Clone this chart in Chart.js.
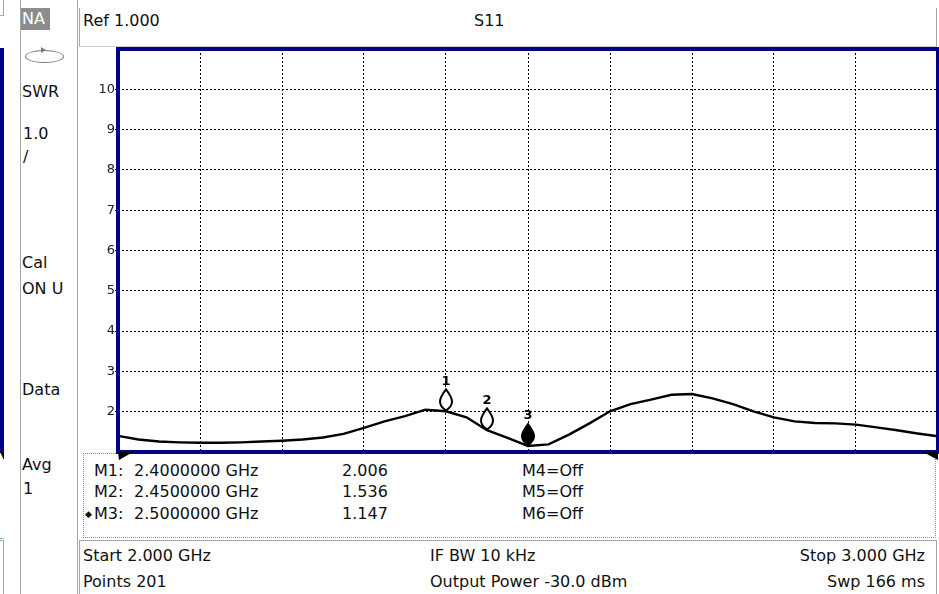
<!DOCTYPE html>
<html>
<head>
<meta charset="utf-8">
<script src="https://cdn.jsdelivr.net/npm/chart.js@4/dist/chart.umd.min.js"></script>
<style>
  html, body { margin: 0; padding: 0; background: #fff; }
  #wrap { position: relative; width: 939px; height: 594px; overflow: hidden; font-family: 'DejaVu Sans', sans-serif; font-size: 16px; color: #111; }
  .t { position: absolute; line-height: 20px; white-space: pre; }
  .ln { position: absolute; background: #a6a6a6; }
  #chart { position: absolute; left: 0; top: 0; }
</style>
</head>
<body>
<div id="wrap">
  <!-- neighbour window edge, cut off at the left -->
  <div class="ln" style="left:3px;top:0;width:1px;height:15px"></div>
  <div class="ln" style="left:0;top:15px;width:4px;height:1px"></div>
  <div style="position:absolute;left:0;top:48px;width:4px;height:405px;background:#00008b"></div>
  <div style="position:absolute;left:0;top:452px;width:0;height:0;border-top:8px solid #000;border-left:4px solid transparent"></div>
  <div style="position:absolute;left:0;top:538px;width:4px;height:0;border-top:1px dotted #5fa7b0"></div>
  <div class="ln" style="left:0;top:540px;width:4px;height:1px"></div>
  <div class="ln" style="left:3px;top:540px;width:1px;height:54px"></div>

  <div class="ln" style="left:20px;top:0;width:1px;height:594px"></div>
  <div class="ln" style="left:77px;top:0;width:1px;height:594px"></div>

  <!-- side panel -->
  <div style="position:absolute;left:21px;top:8px;width:29px;height:22px;background:#8c8c8c"></div>
  <div class="t" style="left:22px;top:9px;color:#fff">NA</div>
  <div style="position:absolute;left:25px;top:50px;width:37px;height:11px;border:1px solid #7a7a7a;border-radius:50%"></div>
  <div style="position:absolute;left:41px;top:47px;width:0;height:0;border-top:3px solid transparent;border-bottom:3px solid transparent;border-left:5px solid #7a7a7a"></div>
  <div class="t" style="left:22px;top:82px">SWR</div>
  <div class="t" style="left:23px;top:124px">1.0</div>
  <div class="t" style="left:23px;top:147px">/</div>
  <div class="t" style="left:22px;top:253px">Cal</div>
  <div class="t" style="left:22px;top:279px">ON U</div>
  <div class="t" style="left:22px;top:380px">Data</div>
  <div class="t" style="left:22px;top:455px">Avg</div>
  <div class="t" style="left:23px;top:479px">1</div>

  <!-- header -->
  <div class="ln" style="left:79px;top:8px;width:1px;height:39px"></div>
  <div class="ln" style="left:79px;top:46px;width:858px;height:1px;background:#cfcfcf"></div>
  <div class="ln" style="left:936px;top:8px;width:1px;height:39px"></div>
  <div class="t" style="left:83px;top:11px" id="refText"></div>
  <div class="t" style="left:474px;top:11px" id="traceText"></div>

  <!-- marker table -->
  <div style="position:absolute;left:83px;top:453px;width:853px;height:85px;border:1px dotted #5fa7b0;box-sizing:border-box"></div>
  <div id="markerTable"></div>

  <!-- footer -->
  <div class="ln" style="left:79px;top:540px;width:1px;height:54px"></div>
  <div class="ln" style="left:79px;top:540px;width:858px;height:1px"></div>
  <div class="ln" style="left:936px;top:540px;width:1px;height:54px"></div>
  <div id="footer"></div>

  <canvas id="chart" width="939" height="594"></canvas>
</div>
<script>
// sweep 2 - 3 GHz, SWR
const freqGHz = [
  2.000, 2.025, 2.050, 2.075, 2.100, 2.125, 2.150, 2.175, 2.200, 2.225,
  2.250, 2.275, 2.300, 2.325, 2.350, 2.375, 2.400, 2.425, 2.450, 2.475,
  2.500, 2.525, 2.550, 2.575, 2.600, 2.625, 2.650, 2.675, 2.700, 2.725,
  2.750, 2.775, 2.800, 2.825, 2.850, 2.875, 2.900, 2.925, 2.950, 2.975,
  3.000,
]
const swr = [
  1.40, 1.31, 1.26, 1.24, 1.23, 1.23, 1.24, 1.26, 1.28, 1.31,
  1.36, 1.45, 1.60, 1.76, 1.89, 2.05, 2.01, 1.86, 1.54, 1.35,
  1.15, 1.19, 1.43, 1.71, 2.01, 2.19, 2.30, 2.42, 2.44, 2.33,
  2.19, 2.01, 1.86, 1.76, 1.72, 1.71, 1.68, 1.61, 1.54, 1.46,
  1.39,
]

const markerNames = ['M1', 'M2', 'M3']
const markerFreq = [2.4, 2.45, 2.5]
const markerVal = [2.006, 1.536, 1.147]
const activeMarker = 2
const markersOff = ['M4=Off', 'M5=Off', 'M6=Off']

const yTicks = [2, 3, 4, 5, 6, 7, 8, 9, 10]
const refText = 'Ref 1.000'
const traceName = 'S11'
const footerLeft = ['Start 2.000 GHz', 'Points 201']
const footerMid = ['IF BW 10 kHz', 'Output Power -30.0 dBm']
const footerRight = ['Stop 3.000 GHz', 'Swp 166 ms']

const FONT = "'DejaVu Sans', sans-serif"

function addText(parent, text, css) {
  const d = document.createElement('div')
  d.className = 't'
  d.textContent = text
  d.style.cssText = css
  parent.appendChild(d)
  return d
}

document.getElementById('refText').textContent = refText
document.getElementById('traceText').textContent = traceName

// marker readout
const table = document.getElementById('markerTable')
const rowY = [461, 482, 504]
markerNames.forEach((name, i) => {
  if (i === activeMarker) addText(table, '\u25C6', `left:85px;top:${rowY[i]}px;font-size:9px`)
  addText(table, name + ':', `left:94px;top:${rowY[i]}px`)
  addText(table, markerFreq[i].toFixed(7) + ' GHz', `left:134px;top:${rowY[i]}px`)
  addText(table, markerVal[i].toFixed(3), `left:342px;top:${rowY[i]}px`)
  addText(table, markersOff[i], `left:522px;top:${rowY[i]}px`)
})

const footer = document.getElementById('footer')
const footY = [546, 572]
footerLeft.forEach((s, i) => addText(footer, s, `left:83px;top:${footY[i]}px`))
footerMid.forEach((s, i) => addText(footer, s, `left:430px;top:${footY[i]}px`))
footerRight.forEach((s, i) => addText(footer, s, `right:14px;top:${footY[i]}px`))

// frame, stimulus arrows and marker symbols
const analyzerPlugin = {
  id: 'analyzer',
  afterDatasetsDraw(chart) {
    const { ctx, chartArea: ca, scales } = chart
    ctx.save()
    markerFreq.forEach((f, i) => {
      const px = scales.x.getPixelForValue(f)
      const py = scales.y.getPixelForValue(markerVal[i]) - 1
      const top = py - 21
      ctx.beginPath()
      ctx.moveTo(px, top)
      ctx.bezierCurveTo(px + 3, top + 4, px + 6, top + 8, px + 6, top + 12)
      ctx.bezierCurveTo(px + 6, py - 5, px + 3, py - 2, px, py)
      ctx.bezierCurveTo(px - 3, py - 2, px - 6, py - 5, px - 6, top + 12)
      ctx.bezierCurveTo(px - 6, top + 8, px - 3, top + 4, px, top)
      ctx.closePath()
      ctx.fillStyle = i === activeMarker ? '#000' : '#fff'
      ctx.fill()
      ctx.lineWidth = 2
      ctx.strokeStyle = '#000'
      ctx.stroke()
      ctx.fillStyle = '#000'
      ctx.font = `bold 13px ${FONT}`
      ctx.textAlign = 'center'
      ctx.textBaseline = 'middle'
      ctx.fillText(String(i + 1), px, top - 8)
    })

    ctx.lineWidth = 4
    ctx.strokeStyle = '#00008b'
    ctx.strokeRect(ca.left, ca.top, ca.right - ca.left, ca.bottom - ca.top)

    ctx.fillStyle = '#000'
    ctx.beginPath()
    ctx.moveTo(ca.left, ca.bottom)
    ctx.lineTo(ca.left + 15, ca.bottom)
    ctx.lineTo(ca.left + 1, ca.bottom + 8)
    ctx.closePath()
    ctx.fill()
    ctx.beginPath()
    ctx.moveTo(ca.right - 15, ca.bottom)
    ctx.lineTo(ca.right, ca.bottom)
    ctx.lineTo(ca.right, ca.bottom + 8)
    ctx.closePath()
    ctx.fill()
    ctx.restore()
  },
}

const ctx = document.getElementById('chart').getContext('2d')
new Chart(ctx, {
  type: 'line',
  data: {
    datasets: [{
      data: freqGHz.map((f, i) => ({ x: f, y: swr[i] })),
      borderColor: '#000',
      borderWidth: 2.4,
      pointRadius: 0,
      tension: 0,
    }],
  },
  options: {
    responsive: false,
    animation: false,
    layout: { padding: { top: 49, bottom: 142, left: 0, right: 1 } },
    plugins: { legend: { display: false }, tooltip: { enabled: false } },
    scales: {
      x: {
        type: 'linear',
        min: 2,
        max: 3,
        ticks: { display: false, stepSize: 0.1 },
        grid: { color: '#000', drawTicks: false },
        border: { display: false, dash: [2, 2] },
        afterFit: (s) => { s.height = 0 },
      },
      y: {
        min: 1,
        max: 11,
        ticks: {
          stepSize: 1,
          padding: 0,
          color: '#222',
          font: { family: FONT, size: 13 },
          callback: (v) => (yTicks.includes(v) ? String(v) : ''),
        },
        grid: {
          color: '#000',
          tickLength: 3,
          tickColor: (c) => (c.tick && yTicks.includes(c.tick.value) ? '#000' : 'rgba(0,0,0,0)'),
        },
        border: { display: false, dash: [2, 2] },
        afterFit: (s) => { s.width = 118 },
      },
    },
  },
  plugins: [analyzerPlugin],
})
</script>
</body>
</html>
